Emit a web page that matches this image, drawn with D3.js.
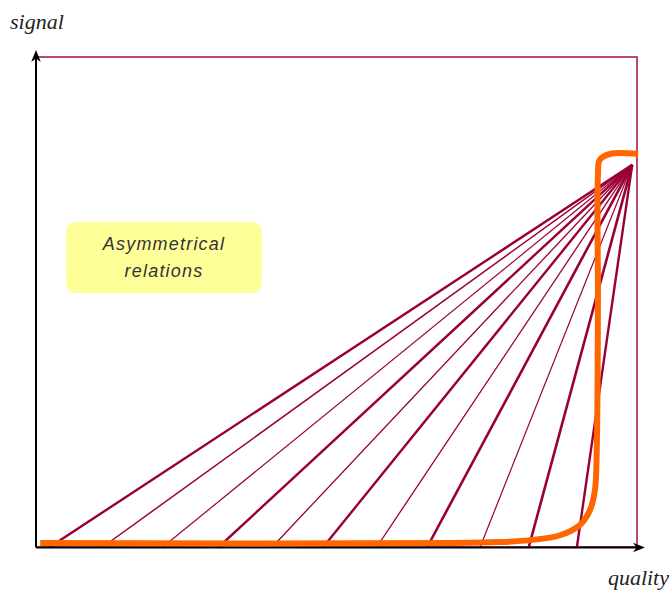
<!DOCTYPE html>
<html><head><meta charset="utf-8">
<script src="https://cdn.jsdelivr.net/npm/d3@7"></script>
<style>body{margin:0;background:#fff}svg{display:block}</style>
</head><body>
<script>
// Data (quality 0..100, signal 0..100)
const rayStartsQuality = [2.3, 11.1, 21.1, 30.4, 39.3, 47.8, 56.7, 65.1, 73.9, 82.0, 90.0];
const rayWidths = [2.4, 1.5, 1.2, 2.4, 1.3, 2.4, 1.3, 2.6, 1.2, 2.6, 2.4];
const apex = {q: 99.2, s: 78.0};
const curveQuality = [0.7, 69.7, 77.2, 82.2, 87.2, 90.5, 92.2, 93.0, 93.3, 93.5, 93.5, 93.8, 95.5, 100.2];
const curveSignal  = [0.8, 0.8, 1.0, 1.4, 2.4, 4.5, 7.6, 11.6, 19.8, 50.4, 75.9, 79.0, 80.2, 80.2];
const labels = {y: "signal", x: "quality", note: ["Asymmetrical", "relations"]};

const W = 669, H = 594;
const svg = d3.select("body").append("svg").attr("width", W).attr("height", H);
const x = d3.scaleLinear().domain([0, 100]).range([36, 637]);
const y = d3.scaleLinear().domain([0, 100]).range([547, 57]);

// frame
svg.append("rect").attr("x", x(0)).attr("y", y(100))
  .attr("width", x(100) - x(0)).attr("height", y(0) - y(100))
  .attr("fill", "none").attr("stroke", "#a81c52").attr("stroke-width", 1.6);

// rays
rayStartsQuality.forEach((q, i) => {
  svg.append("line")
    .attr("x1", x(q)).attr("y1", y(0))
    .attr("x2", x(apex.q)).attr("y2", y(apex.s))
    .attr("stroke", "#990033").attr("stroke-width", rayWidths[i]);
});

// axes (black with arrows)
svg.append("defs").append("marker").attr("id", "arr")
  .attr("viewBox", "0 0 10 10").attr("refX", 5).attr("refY", 5)
  .attr("markerWidth", 6).attr("markerHeight", 6).attr("orient", "auto")
  .append("path").attr("d", "M0,1 L10,5 L0,9 L3,5 Z").attr("fill", "#000");
svg.append("line").attr("x1", x(0)).attr("y1", y(0)).attr("x2", x(0)).attr("y2", y(100) - 1)
  .attr("stroke", "#000").attr("stroke-width", 2).attr("marker-end", "url(#arr)");
svg.append("line").attr("x1", x(0)).attr("y1", y(0) + 0.5).attr("x2", x(100) + 2).attr("y2", y(0) + 0.5)
  .attr("stroke", "#000").attr("stroke-width", 2).attr("marker-end", "url(#arr)");

// orange curve
const pts = curveQuality.map((q, i) => [q, curveSignal[i]]);
const line = d3.line().x(d => x(d[0])).y(d => y(d[1])).curve(d3.curveCatmullRom.alpha(0.5));
svg.append("path").attr("d", line(pts)).attr("fill", "none")
  .attr("stroke", "#ff6600").attr("stroke-width", 6).attr("stroke-linejoin", "round");

// note box
svg.append("rect").attr("x", 66).attr("y", 222).attr("width", 196).attr("height", 71)
  .attr("rx", 9).attr("fill", "#ffff99");
const noteFont = "Liberation Sans Narrow, Liberation Sans, Arial, sans-serif";
svg.append("text").attr("x", 164).attr("y", 250).attr("text-anchor", "middle")
  .attr("font-family", noteFont).attr("font-style", "italic")
  .attr("font-size", 18).attr("letter-spacing", 1.2).attr("fill", "#333").text(labels.note[0]);
svg.append("text").attr("x", 164).attr("y", 277).attr("text-anchor", "middle")
  .attr("font-family", noteFont).attr("font-style", "italic")
  .attr("font-size", 18).attr("letter-spacing", 1.2).attr("fill", "#333").text(labels.note[1]);

// axis labels
svg.append("text").attr("x", 10).attr("y", 29)
  .attr("font-family", "Liberation Serif, Times New Roman, serif").attr("font-style", "italic")
  .attr("font-size", 22).attr("fill", "#222").text(labels.y);
svg.append("text").attr("x", 669).attr("y", 585).attr("text-anchor", "end")
  .attr("font-family", "Liberation Serif, Times New Roman, serif").attr("font-style", "italic")
  .attr("font-size", 22).attr("fill", "#222").text(labels.x);
</script>
</body></html>
